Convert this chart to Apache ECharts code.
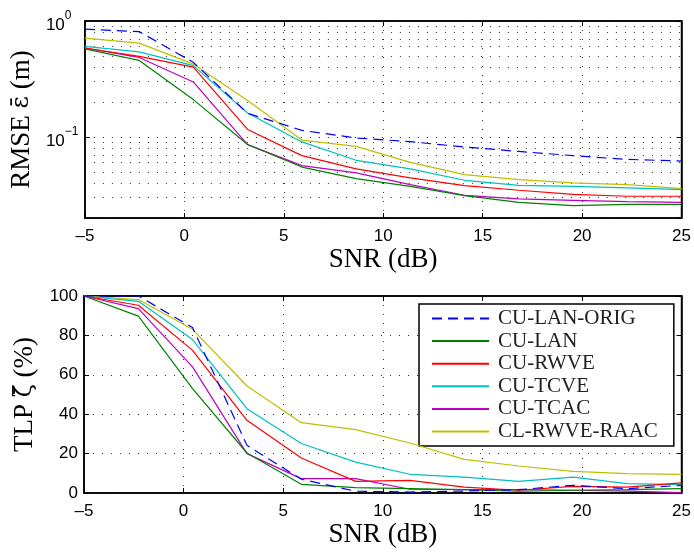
<!DOCTYPE html>
<html>
<head>
<meta charset="utf-8">
<script src="https://cdn.jsdelivr.net/npm/echarts@6/dist/echarts.min.js"></script>
<style>
html,body{margin:0;padding:0;background:#fff;}
#c{width:694px;height:552px;}
</style>
</head>
<body>
<div id="c"></div>
<script>
// ---- data ----
const snr = [-5, -2.27, 0.45, 3.18, 5.91, 8.64, 11.36, 14.09, 16.82, 19.55, 22.27, 25];

const names = ['CU-LAN-ORIG', 'CU-LAN', 'CU-RWVE', 'CU-TCVE', 'CU-TCAC', 'CL-RWVE-RAAC'];

const origRmse = [0.85, 0.81, 0.44, 0.16, 0.114, 0.098, 0.091, 0.082, 0.075, 0.069, 0.064, 0.062];
const lanRmse  = [0.575, 0.457, 0.21, 0.086, 0.055, 0.0437, 0.0375, 0.0312, 0.0273, 0.0256, 0.0262, 0.0262];
const rwveRmse = [0.585, 0.495, 0.40, 0.116, 0.069, 0.053, 0.0443, 0.038, 0.0347, 0.032, 0.0308, 0.0308];
const tcveRmse = [0.604, 0.541, 0.412, 0.161, 0.0906, 0.0629, 0.053, 0.0423, 0.0383, 0.0375, 0.0364, 0.0351];
const tcacRmse = [0.585, 0.485, 0.298, 0.0858, 0.0566, 0.049, 0.0388, 0.0314, 0.0292, 0.0284, 0.0277, 0.0273];
const raacRmse = [0.713, 0.645, 0.425, 0.206, 0.094, 0.083, 0.0604, 0.0474, 0.0429, 0.0401, 0.0388, 0.0359];

const origTlp = [100, 100, 84, 24.2, 7, 0.9, 0.5, 1, 1.7, 3.9, 2.2, 3.9];
const lanTlp  = [100, 89.8, 53, 20.3, 4.4, 2.7, 2.2, 1.7, 0.9, 1.4, 1.7, 2.2];
const rwveTlp = [100, 95.3, 72.4, 36.9, 17.8, 5.9, 6.4, 3, 1.4, 3.4, 3, 5.1];
const tcveTlp = [100, 97.3, 77.9, 42.8, 25.1, 15.7, 9.5, 8.1, 5.9, 8.1, 4.8, 4.3];
const tcacTlp = [100, 93.6, 64, 20, 7.3, 7.3, 1.9, 1.7, 1.7, 1.4, 1, 0.2];
const raacTlp = [100, 98.2, 83.1, 54.3, 35.7, 32.2, 25.4, 17.1, 13.7, 11, 9.8, 9.5];

const rmseMinorTicks = [0.03, 0.04, 0.05, 0.06, 0.07, 0.08, 0.09, 0.1, 0.2, 0.3, 0.4, 0.5, 0.6, 0.7, 0.8, 0.9];
const xTicks = { min: -5, max: 25, interval: 5 };
const tlpTicks = { min: 0, max: 100, interval: 20 };

// ---- style ----
const colors = ['#0000ff', '#008000', '#ff0000', '#00bfbf', '#bf00bf', '#bfbf00'];
const rmseData = [origRmse, lanRmse, rwveRmse, tcveRmse, tcacRmse, raacRmse];
const tlpData = [origTlp, lanTlp, rwveTlp, tcveTlp, tcacTlp, raacTlp];

const serif = 'Liberation Serif';
const sans = 'Liberation Sans';
const dotted = { color: '#333', width: 1, type: [1, 8] };
const tickFont = { fontFamily: sans, fontSize: 17, color: '#000' };
const titleRich = {
  a: { fontFamily: serif, fontSize: 27, color: '#000' },
  g: { fontFamily: 'DejaVu Serif', fontSize: 24, color: '#000' }
};

function pair(arr) { return snr.map((x, i) => [x, arr[i]]); }

function xAx(gi, bottom, showName) {
  return {
    type: 'value', gridIndex: gi, position: bottom ? 'bottom' : 'top',
    min: xTicks.min, max: xTicks.max, interval: xTicks.interval,
    name: showName ? 'SNR (dB)' : '', nameLocation: 'middle', nameGap: 28,
    nameTextStyle: { fontFamily: serif, fontSize: 27, color: '#000' },
    axisLine: { show: true, onZero: false, lineStyle: { color: '#000', width: 1.5 } },
    axisTick: { show: true, inside: true, length: 5, lineStyle: { color: '#000' } },
    axisLabel: bottom ? Object.assign({ margin: 10, formatter: v => (v < 0 ? '\u2013' + Math.abs(v) : '' + v) }, tickFont) : { show: false },
    splitLine: { show: bottom, lineStyle: dotted }
  };
}

const option = {
  animation: false,
  backgroundColor: '#fff',
  grid: [
    { left: 84, right: 11, top: 21, height: 197, show: true, borderColor: '#000', borderWidth: 1.5, backgroundColor: 'transparent' },
    { left: 84, right: 11, top: 296, height: 197, show: true, borderColor: '#000', borderWidth: 1.5, backgroundColor: 'transparent' }
  ],
  legend: {
    left: 419, top: 304,
    orient: 'vertical',
    data: names,
    itemWidth: 57, itemHeight: 14, itemGap: 1.6,
    padding: [4, 16, 4, 12],
    borderColor: '#000', borderWidth: 1.5, backgroundColor: '#fff',
    itemStyle: { opacity: 0 },
    textStyle: { fontFamily: serif, fontSize: 21, color: '#222', padding: [0, 0, 0, 4] }
  },
  xAxis: [xAx(0, true, true), xAx(0, false, false), xAx(1, true, true), xAx(1, false, false)],
  yAxis: [
    {
      type: 'log', logBase: 10, gridIndex: 0, min: 0.02, max: 1,
      name: '{a|RMSE }{g|\u03B5\u0304}{a| (m)}', nameLocation: 'middle', nameGap: 46,
      nameTextStyle: { fontFamily: serif, fontSize: 27, color: '#000', rich: titleRich },
      axisLine: { show: true, onZero: false, lineStyle: { color: '#000', width: 1.5 } },
      axisTick: { show: true, inside: true, length: 5, lineStyle: { color: '#000' } },
      axisLabel: {
        showMinLabel: false, align: 'left', margin: 39,
        formatter: function (v) {
          const l = Math.log10(v); const e = Math.round(l);
          if (Math.abs(l - e) > 1e-6) return '';
          return '{b|10}{s|' + (e < 0 ? '\u2212' + Math.abs(e) : e) + '}';
        },
        rich: {
          b: { fontFamily: sans, fontSize: 17, color: '#000', padding: [8, 0, 0, 0] },
          s: { fontFamily: sans, fontSize: 12, color: '#000', padding: [0, 0, 10, 0] }
        }
      },
      splitLine: { show: true, lineStyle: dotted }
    },
    {
      type: 'log', logBase: 10, gridIndex: 0, min: 0.02, max: 1, position: 'right',
      axisLine: { show: true, onZero: false, lineStyle: { color: '#000', width: 1.5 } },
      axisTick: { show: true, inside: true, length: 5, lineStyle: { color: '#000' } },
      axisLabel: { show: false }, splitLine: { show: false }
    },
    {
      type: 'value', gridIndex: 1, min: tlpTicks.min, max: tlpTicks.max, interval: tlpTicks.interval,
      name: '{a|TLP }{g|\u03B6\u0304}{a| (%)}', nameLocation: 'middle', nameGap: 45,
      nameTextStyle: { fontFamily: serif, fontSize: 27, color: '#000', rich: titleRich },
      axisLine: { show: true, onZero: false, lineStyle: { color: '#000', width: 1.5 } },
      axisTick: { show: true, inside: true, length: 5, lineStyle: { color: '#000' } },
      axisLabel: Object.assign({ margin: 6 }, tickFont),
      splitLine: { show: true, lineStyle: dotted }
    },
    {
      type: 'value', gridIndex: 1, min: tlpTicks.min, max: tlpTicks.max, interval: tlpTicks.interval, position: 'right',
      axisLine: { show: true, onZero: false, lineStyle: { color: '#000', width: 1.5 } },
      axisTick: { show: true, inside: true, length: 5, lineStyle: { color: '#000' } },
      axisLabel: { show: false }, splitLine: { show: false }
    }
  ],
  series: []
};

names.forEach((n, k) => {
  const ls = { color: colors[k], width: 1.2, type: k === 0 ? [10, 6] : 'solid' };
  const top = {
    name: n, type: 'line', xAxisIndex: 0, yAxisIndex: 0, data: pair(rmseData[k]),
    showSymbol: false, symbol: 'circle', symbolSize: 0, lineStyle: ls, itemStyle: { color: colors[k] }, z: 10 - k
  };
  if (k === 0) {
    top.markLine = {
      silent: true, symbol: 'none', label: { show: false }, animation: false,
      lineStyle: dotted,
      data: rmseMinorTicks.map(v => ({ yAxis: v }))
    };
  }
  option.series.push(top);
  option.series.push({
    name: n, type: 'line', xAxisIndex: 2, yAxisIndex: 2, data: pair(tlpData[k]),
    showSymbol: false, symbol: 'circle', symbolSize: 0, lineStyle: ls, itemStyle: { color: colors[k] }, z: 10 - k
  });
});

const chart = echarts.init(document.getElementById('c'), null, { renderer: 'canvas' });
chart.setOption(option);
</script>
</body>
</html>
